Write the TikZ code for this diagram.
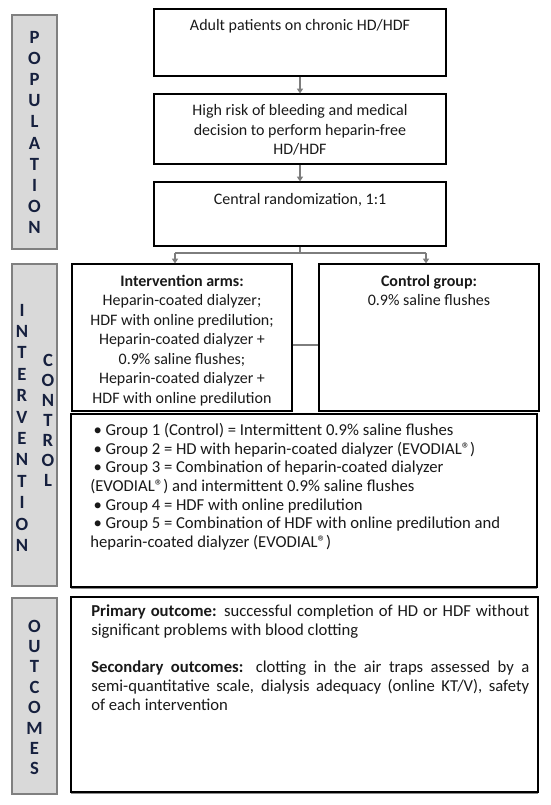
\documentclass[tikz,border=0pt]{standalone}
\usepackage{fontspec}
\setmainfont{Carlito}
\usetikzlibrary{arrows.meta,fit,positioning,shadows}
\definecolor{bargray}{RGB}{217,217,217}
\definecolor{barline}{RGB}{128,128,128}
\definecolor{barink}{RGB}{22,32,62}
\definecolor{linkgray}{RGB}{125,125,125}
\definecolor{ink}{RGB}{25,25,25}

\begin{document}
\begin{tikzpicture}[x=0.75pt,y=-0.75pt,
        bar/.style={draw=barline, fill=bargray, line width=2pt, inner sep=0pt},
        box/.style={draw=black, line width=0.9pt, inner sep=0pt},
        shadowbox/.style={box, fill=white, drop shadow={shadow xshift=0.3pt, shadow yshift=-1.3pt, fill=gray, opacity=0.9}},
        barletter/.style={font=\fontsize{14}{15}\selectfont\bfseries, text=barink, inner sep=0pt},
        txt/.style={font=\fontsize{12}{14.6}\selectfont, text=ink, align=center, inner sep=0pt},
        bodytxt/.style={font=\fontsize{12.5}{14}\selectfont, text=ink, inner sep=0pt, anchor=north west},
        link/.style={draw=linkgray, line width=1.5pt},
        arr/.style={link, -{Triangle[length=3.5pt,width=4.5pt]}}]

    \useasboundingbox (0,0) rectangle (550,805);

    % grey side bars
    \node[bar, fit={(12,15) (57,249)}] (popbar) {};
    \node[bar, fit={(12,264) (57,586)}] (intbar) {};
    \node[bar, fit={(12,598) (57,794)}] (outbar) {};

    \foreach \l [count=\i] in {P,O,P,U,L,A,T,I,O,N}
        \node[barletter] (pop\i) at (34.5, {37+21.2*(\i-1)}) {\l};
    \foreach \l [count=\i] in {I,N,T,E,R,V,E,N,T,I,O,N}
        \node[barletter] (int\i) at (22, {310+21.4*(\i-1)}) {\l};
    \foreach \l [count=\i] in {C,O,N,T,R,O,L}
        \node[barletter] (con\i) at (48, {360+20*(\i-1)}) {\l};
    \foreach \l [count=\i] in {O,U,T,C,O,M,E,S}
        \node[barletter] (out\i) at (34.5, {626+20.4*(\i-1)}) {\l};

    % population boxes
    \node[box, fit={(154,9) (446,76)}] (adult) {};
    \node[txt] (adulttxt) at (300,26) {Adult patients on chronic HD/HDF};

    \node[box, fit={(154,94) (446,164)}] (risk) {};
    \node[txt] (risktxt) at (300,130) {High risk of bleeding and medical\\decision to perform heparin-free\\HD/HDF};

    \node[box, fit={(154,182) (446,246)}] (rand) {};
    \node[txt] (randtxt) at (300,200) {Central randomization, 1:1};

    % intervention and control
    \node[box, fit={(72,264) (292,411)}] (arms) {};
    \node[txt] (armstxt) at (182,340.5) {\textbf{Intervention arms:}\\Heparin-coated dialyzer;\\HDF with online predilution;\\Heparin-coated dialyzer +\\0.9\% saline flushes;\\Heparin-coated dialyzer +\\HDF with online predilution};

    \node[box, fit={(319,264) (539,411)}] (ctrl) {};
    \node[txt] (ctrltxt) at (429,290.5) {\textbf{Control group:}\\0.9\% saline flushes};

    \node[shadowbox, fit={(71,414) (537,587)}] (groups) {};
    \node[bodytxt, align=left] (groupstxt) at (90,423) {%
        \hspace*{2.5pt}\textbullet\ Group 1 (Control) = Intermittent 0.9\% saline flushes\\
        \hspace*{2.5pt}\textbullet\ Group 2 = HD with heparin-coated dialyzer (EVODIAL®)\\
        \hspace*{2.5pt}\textbullet\ Group 3 = Combination of heparin-coated dialyzer\\
        (EVODIAL®) and intermittent 0.9\% saline flushes\\
        \hspace*{2.5pt}\textbullet\ Group 4 = HDF with online predilution\\
        \hspace*{2.5pt}\textbullet\ Group 5 = Combination of HDF with online predilution and\\
        heparin-coated dialyzer (EVODIAL®)};

    % outcomes
    \node[shadowbox, fit={(71,597) (538,792)}] (outc) {};
    \node[bodytxt, text width=328.5pt, align=justify] (outctxt) at (91,605) {%
        \textbf{Primary outcome:} successful completion of HD or HDF without\linebreak
        significant problems with blood clotting\par
        \vspace{14pt}
        \textbf{Secondary outcomes:} clotting in the air traps assessed by a\linebreak
        semi-quantitative scale, dialysis adequacy (online KT/V), safety\linebreak
        of each intervention};

    % connectors
    \coordinate (splitL) at (175,253);
    \coordinate (splitR) at (426,253);
    \coordinate (side) at (300,345);

    \draw[arr] (adult.south) -- (risk.north);
    \draw[arr] (risk.south) -- (rand.north);
    \draw[link] (rand.south) -- (rand.south |- splitL);
    \draw[link] (splitL) -- (splitR);
    \draw[arr] (splitL) -- (splitL |- arms.north);
    \draw[arr] (splitR) -- (splitR |- ctrl.north);
    \draw[link] (arms.east |- side) -- (ctrl.west |- side);

\end{tikzpicture}
\end{document}
